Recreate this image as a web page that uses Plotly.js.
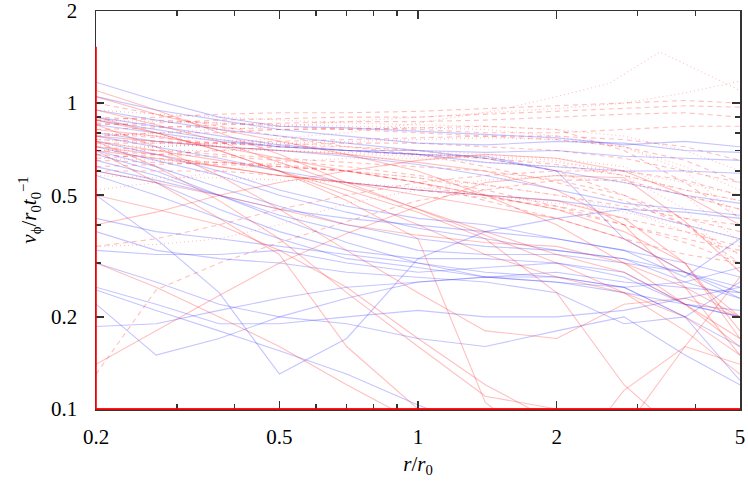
<!DOCTYPE html>
<html>
<head>
<meta charset="utf-8">
<script src="https://cdn.plot.ly/plotly-3.0.1.min.js"></script>
<style>
  html, body { margin: 0; padding: 0; background: #fff; }
  #plot { width: 748px; height: 487px; }
</style>
</head>
<body>
<div id="plot"></div>
<script>
// shared radius grid r/r0 for most curves
const radius = [0.2, 0.27, 0.37, 0.5, 0.7, 1, 1.4, 2, 2.8, 3.8, 5];

// blue solid curves (v_phi values on the radius grid)
const blueSolid = [
  [1.17, 1.02, 0.90, 0.84, 0.83, 0.81, 0.79, 0.77, 0.73, 0.75, 0.72],
  [1.05, 0.95, 0.88, 0.82, 0.78, 0.74, 0.73, 0.75, 0.74, 0.70, 0.69],
  [0.95, 0.88, 0.82, 0.78, 0.74, 0.70, 0.69, 0.70, 0.67, 0.66, 0.65],
  [0.90, 0.84, 0.78, 0.73, 0.70, 0.68, 0.64, 0.62, 0.60, 0.60, 0.59],
  [0.85, 0.80, 0.75, 0.72, 0.70, 0.70, 0.66, 0.60, 0.55, 0.50, 0.47],
  [0.80, 0.75, 0.72, 0.70, 0.67, 0.63, 0.58, 0.52, 0.47, 0.45, 0.43],
  [0.78, 0.72, 0.66, 0.60, 0.55, 0.52, 0.50, 0.48, 0.45, 0.40, 0.36],
  [0.75, 0.68, 0.60, 0.52, 0.46, 0.42, 0.40, 0.36, 0.33, 0.30, 0.27],
  [0.72, 0.65, 0.58, 0.50, 0.44, 0.39, 0.36, 0.33, 0.31, 0.28, 0.24],
  [0.70, 0.62, 0.53, 0.46, 0.40, 0.36, 0.34, 0.33, 0.31, 0.26, 0.23],
  [0.65, 0.58, 0.50, 0.43, 0.38, 0.33, 0.32, 0.32, 0.30, 0.28, 0.25],
  [0.60, 0.55, 0.45, 0.38, 0.33, 0.31, 0.31, 0.30, 0.28, 0.22, 0.20],
  [0.245, 0.21, 0.18, 0.155, 0.13, 0.103, 0.085, 0.075, 0.07, 0.07, 0.07],
  [0.50, 0.36, 0.24, 0.13, 0.17, 0.31, 0.38, 0.42, 0.45, 0.44, 0.42],
  [0.22, 0.15, 0.17, 0.20, 0.23, 0.26, 0.27, 0.26, 0.24, 0.22, 0.20],
  [0.186, 0.19, 0.21, 0.23, 0.25, 0.26, 0.27, 0.28, 0.26, 0.25, 0.24],
  [0.25, 0.22, 0.19, 0.19, 0.20, 0.21, 0.20, 0.20, 0.21, 0.23, 0.25],
  [0.30, 0.26, 0.22, 0.20, 0.19, 0.17, 0.16, 0.18, 0.20, 0.15, 0.12],
  [0.88, 0.82, 0.76, 0.72, 0.70, 0.68, 0.67, 0.60, 0.36, 0.28, 0.23],
  [0.62, 0.56, 0.50, 0.45, 0.42, 0.40, 0.38, 0.36, 0.33, 0.27, 0.36],
  [0.42, 0.38, 0.36, 0.34, 0.32, 0.30, 0.28, 0.27, 0.25, 0.20, 0.16],
  [0.33, 0.32, 0.32, 0.33, 0.30, 0.28, 0.29, 0.30, 0.27, 0.22, 0.21],
  [0.68, 0.60, 0.50, 0.42, 0.35, 0.30, 0.27, 0.26, 0.25, 0.20, 0.124],
  [0.58, 0.50, 0.42, 0.36, 0.31, 0.29, 0.27, 0.27, 0.25, 0.26, 0.29],
  [0.38, 0.33, 0.31, 0.30, 0.28, 0.27, 0.26, 0.24, 0.19, 0.20, 0.26]
];

// red solid curves
const redSolid = [
  [1.10, 0.95, 0.80, 0.68, 0.55, 0.45, 0.37, 0.30, 0.24, 0.18, 0.13],
  [1.05, 0.92, 0.82, 0.75, 0.68, 0.60, 0.50, 0.40, 0.30, 0.22, 0.17],
  [0.95, 0.85, 0.75, 0.64, 0.54, 0.45, 0.38, 0.32, 0.28, 0.22, 0.16],
  [0.88, 0.80, 0.70, 0.60, 0.50, 0.40, 0.32, 0.27, 0.24, 0.20, 0.15],
  [0.75, 0.70, 0.65, 0.60, 0.52, 0.44, 0.36, 0.24, 0.12, 0.08, 0.07],
  [0.70, 0.66, 0.62, 0.58, 0.55, 0.52, 0.50, 0.48, 0.42, 0.30, 0.17],
  [0.60, 0.55, 0.50, 0.45, 0.40, 0.37, 0.35, 0.34, 0.30, 0.25, 0.20],
  [0.14, 0.18, 0.235, 0.30, 0.375, 0.46, 0.55, 0.58, 0.57, 0.41, 0.28],
  [0.40, 0.44, 0.50, 0.55, 0.60, 0.65, 0.68, 0.66, 0.60, 0.50, 0.40],
  [0.70, 0.55, 0.42, 0.32, 0.16, 0.10, 0.07, 0.06, 0.06, 0.06, 0.06],
  [0.90, 0.80, 0.70, 0.60, 0.48, 0.36, 0.105, 0.07, 0.06, 0.06, 0.06],
  [0.75, 0.62, 0.48, 0.36, 0.24, 0.16, 0.11, 0.10, 0.09, 0.09, 0.09],
  [0.85, 0.72, 0.58, 0.45, 0.33, 0.24, 0.18, 0.17, 0.22, 0.23, 0.20],
  [0.30, 0.25, 0.20, 0.16, 0.12, 0.09, 0.07, 0.06, 0.115, 0.16, 0.14],
  [0.50, 0.45, 0.40, 0.33, 0.25, 0.17, 0.12, 0.09, 0.085, 0.16, 0.27],
  [0.78, 0.75, 0.72, 0.70, 0.68, 0.64, 0.60, 0.52, 0.40, 0.25, 0.15],
  [0.72, 0.68, 0.62, 0.58, 0.55, 0.50, 0.46, 0.42, 0.36, 0.28, 0.20],
  [0.82, 0.78, 0.72, 0.66, 0.60, 0.55, 0.50, 0.45, 0.38, 0.30, 0.18]
];

// red dashed curves
const redDashed = [
  [0.88, 0.90, 0.92, 0.93, 0.93, 0.94, 0.96, 0.98, 1.00, 1.02, 1.00],
  [0.85, 0.86, 0.88, 0.89, 0.90, 0.90, 0.92, 0.94, 0.96, 0.98, 0.97],
  [0.82, 0.83, 0.85, 0.86, 0.87, 0.87, 0.88, 0.90, 0.92, 0.93, 0.90],
  [0.78, 0.80, 0.80, 0.82, 0.83, 0.82, 0.80, 0.80, 0.82, 0.84, 0.84],
  [0.76, 0.75, 0.74, 0.73, 0.74, 0.74, 0.72, 0.70, 0.66, 0.60, 0.55],
  [0.80, 0.77, 0.74, 0.72, 0.70, 0.68, 0.66, 0.63, 0.58, 0.52, 0.48],
  [0.72, 0.70, 0.68, 0.66, 0.64, 0.62, 0.60, 0.56, 0.50, 0.42, 0.38],
  [0.70, 0.68, 0.67, 0.65, 0.62, 0.58, 0.54, 0.50, 0.46, 0.42, 0.40],
  [0.68, 0.66, 0.64, 0.62, 0.60, 0.57, 0.52, 0.46, 0.40, 0.36, 0.33],
  [0.65, 0.64, 0.63, 0.62, 0.60, 0.55, 0.48, 0.42, 0.36, 0.32, 0.30],
  [0.62, 0.63, 0.64, 0.63, 0.60, 0.55, 0.50, 0.45, 0.40, 0.35, 0.30],
  [0.60, 0.60, 0.60, 0.58, 0.55, 0.52, 0.49, 0.46, 0.42, 0.38, 0.34],
  [0.13, 0.245, 0.30, 0.35, 0.41, 0.48, 0.52, 0.56, 0.56, 0.50, 0.45],
  [0.34, 0.36, 0.40, 0.45, 0.50, 0.55, 0.58, 0.60, 0.60, 0.56, 0.50],
  [0.74, 0.74, 0.74, 0.75, 0.76, 0.77, 0.78, 0.78, 0.76, 0.72, 0.65],
  [1.00, 0.92, 0.84, 0.78, 0.72, 0.68, 0.62, 0.55, 0.48, 0.40, 0.32],
  [0.66, 0.68, 0.70, 0.72, 0.72, 0.70, 0.66, 0.60, 0.50, 0.40, 0.30],
  [0.90, 0.88, 0.86, 0.84, 0.82, 0.80, 0.78, 0.76, 0.72, 0.65, 0.55],
  [0.86, 0.84, 0.83, 0.82, 0.82, 0.83, 0.84, 0.82, 0.70, 0.55, 0.42]
];

// red dotted curves
const redDotted = [
  [0.78, 0.80, 0.82, 0.84, 0.87, 0.90, 0.93, 0.96, 1.00, 1.08, 1.18],
  [0.52, 0.55, 0.60, 0.64, 0.66, 0.66, 0.64, 0.62, 0.58, 0.52, 0.48],
  [0.34, 0.345, 0.36, 0.40, 0.47, 0.52, 0.56, 0.58, 0.55, 0.50, 0.45],
  [0.95, 0.92, 0.90, 0.88, 0.86, 0.85, 0.84, 0.82, 0.78, 0.70, 0.60],
  [0.80, 0.78, 0.76, 0.74, 0.72, 0.70, 0.68, 0.66, 0.62, 0.50, 0.35],
  [0.76, 0.74, 0.72, 0.70, 0.68, 0.67, 0.66, 0.64, 0.60, 0.55, 0.50],
  [0.70, 0.70, 0.70, 0.70, 0.69, 0.68, 0.67, 0.65, 0.58, 0.45, 0.28],
  [0.66, 0.65, 0.64, 0.62, 0.60, 0.57, 0.54, 0.50, 0.45, 0.38, 0.32],
  [0.88, 0.87, 0.86, 0.85, 0.84, 0.83, 0.82, 0.78, 0.72, 0.62, 0.52],
  [0.58, 0.57, 0.57, 0.56, 0.55, 0.53, 0.50, 0.47, 0.44, 0.40, 0.36],
  [0.73, 0.72, 0.73, 0.74, 0.75, 0.76, 0.77, 0.76, 0.72, 0.60, 0.42]
];

// one dotted curve with its own radii (peaks near r = 3.3)
const peakRadius = [0.2, 0.37, 0.7, 1, 1.5, 2, 2.6, 3.35, 4.2, 5];
const peakDotted = [0.70, 0.74, 0.80, 0.86, 0.95, 1.05, 1.16, 1.47, 1.25, 1.10];

const blue = "rgba(40, 40, 255, 0.27)";
const red = "rgba(255, 30, 30, 0.28)";

function makeTraces(list, color, dash) {
  return list.map(function (vals) {
    return {
      x: radius,
      y: vals,
      mode: "lines",
      line: { color: color, width: 1.1, dash: dash },
      hoverinfo: "skip",
      showlegend: false
    };
  });
}

let data = []
  .concat(makeTraces(redDashed, red, "5px,4px"))
  .concat(makeTraces(redDotted, red, "1px,3px"))
  .concat([{
    x: peakRadius, y: peakDotted, mode: "lines",
    line: { color: red, width: 1.1, dash: "1px,3px" },
    hoverinfo: "skip", showlegend: false
  }])
  .concat(makeTraces(blueSolid, blue, "solid"))
  .concat(makeTraces(redSolid, red, "solid"));

const serif = "'Liberation Serif', 'DejaVu Serif', serif";

let layout = {
  width: 748,
  height: 487,
  margin: { l: 96, r: 8, t: 11, b: 78 },
  paper_bgcolor: "#fff",
  plot_bgcolor: "#fff",
  font: { family: serif, size: 21, color: "#000" },
  xaxis: {
    type: "log",
    range: [Math.log10(0.2) - 0.0002, Math.log10(5) + 0.0002],
    tickvals: [0.2, 0.5, 1, 2, 5],
    ticktext: ["0.2", "0.5", "1", "2", "5"],
    ticks: "inside",
    ticklen: 8,
    tickcolor: "#333",
    tickwidth: 1.5,
    minor: { tickvals: [0.3, 0.4, 0.6, 0.7, 0.8, 0.9, 3, 4], ticks: "inside", ticklen: 5, tickcolor: "#333", tickwidth: 1.5, showgrid: false },
    showline: true,
    linecolor: "#333",
    linewidth: 1.5,
    mirror: "allticks",
    showgrid: false,
    zeroline: false,
    ticklabelstandoff: 8,
    ticklabeloverflow: "allow",
    tickfont: { family: serif, size: 21, color: "#000" },
    title: { text: "<i>r</i>/<i>r</i><sub>0</sub>", font: { family: serif, size: 21, color: "#000" }, standoff: 8 }
  },
  yaxis: {
    type: "log",
    range: [-1.0002, Math.log10(2) + 0.0002],
    tickvals: [0.1, 0.2, 0.5, 1, 2],
    ticktext: ["0.1", "0.2", "0.5", "1", "2"],
    ticks: "inside",
    ticklen: 8,
    tickcolor: "#333",
    tickwidth: 1.5,
    minor: { tickvals: [0.3, 0.4, 0.6, 0.7, 0.8, 0.9], ticks: "inside", ticklen: 5, tickcolor: "#333", tickwidth: 1.5, showgrid: false },
    showline: true,
    linecolor: "#333",
    linewidth: 1.5,
    mirror: "allticks",
    showgrid: false,
    zeroline: false,
    ticklabelstandoff: 13,
    ticklabeloverflow: "allow",
    tickfont: { family: serif, size: 21, color: "#000" },
    title: { text: "<i>v</i><sub>ϕ</sub>/<i>r</i><sub>0</sub><i>t</i><sub>0</sub><sup>−1</sup>", font: { family: serif, size: 21, color: "#000" }, standoff: 8 }
  },
  // red edges where curves run along the frame
  shapes: [
    { type: "line", xref: "paper", yref: "paper", x0: 0, x1: 1, y0: 0, y1: 0, line: { color: "rgba(255,0,0,0.9)", width: 2 } },
    { type: "line", xref: "paper", yref: "paper", x0: 0, x1: 0, y0: 0, y1: 0.91, line: { color: "rgba(255,0,0,0.8)", width: 2 } }
  ]
};

Plotly.newPlot("plot", data, layout, { staticPlot: true, displayModeBar: false });
</script>
</body>
</html>
